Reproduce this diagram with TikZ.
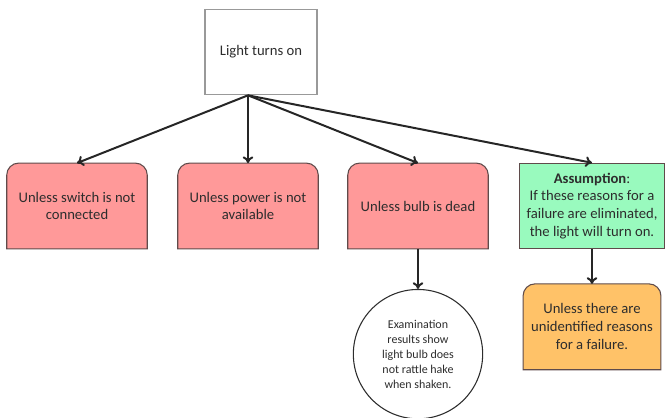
\documentclass[tikz,border=0pt]{standalone}
\usepackage{fontspec}
\setmainfont{Carlito}
\usetikzlibrary{positioning}
\usetikzlibrary{arrows.meta}
\usetikzlibrary{backgrounds}
\definecolor{reason}{RGB}{255,153,153}
\definecolor{assume}{RGB}{153,250,190}
\definecolor{hidden}{RGB}{255,194,104}
\definecolor{edge}{RGB}{95,75,75}
\definecolor{ink}{RGB}{45,45,45}

\tikzset{
    box/.style={minimum width=105pt, minimum height=64pt, align=center, text=ink,
        inner sep=3pt, font=\fontsize{11}{13.4}\selectfont},
    topbox/.style={box, draw=gray!80, line width=1pt, fill=white, minimum width=84pt},
    greenbox/.style={box, draw=edge, line width=0.8pt, fill=assume, minimum width=109pt},
    circlebox/.style={circle, draw=ink, line width=0.8pt, fill=white, minimum size=97pt,
        align=center, text=ink, inner sep=0pt, font=\fontsize{9}{11.2}\selectfont},
    arr/.style={-{To[length=5pt,width=8pt]}, line width=1.5pt, draw=black!85}
}

\begin{document}
\begin{tikzpicture}[x=0.75pt, y=-0.75pt]
    \useasboundingbox (0,0) rectangle (666,417);

    % top statement
    \node[topbox] (light) at (261,52) {Light turns on};

    % reasons for failure
    \node[box] (switch) at (77,206) {Unless switch is not\\connected};
    \node[box] (power) at (248,206) {Unless power is not\\available};
    \node[box] (bulb) at (418,206) {Unless bulb is dead};
    \node[greenbox] (assumption) at (592,206)
        {\textbf{Assumption}:\\If these reasons for a\\failure are eliminated,\\the light will turn on.};

    % below the row
    \node[circlebox, below=30pt of bulb] (exam)
        {Examination\\results show\\light bulb does\\not rattle hake\\when shaken.};
    \node[box, below=26pt of assumption, minimum width=103pt] (unknown)
        {Unless there are\\unidentified reasons\\for a failure.};

    % boxes rounded on top only
    \begin{scope}[on background layer]
        \foreach \n/\c in {switch/reason, power/reason, bulb/reason, unknown/hidden} {
            \draw[draw=edge, fill=\c, line width=0.8pt] (\n.south west)
                [rounded corners=9pt] -- (\n.north west) -- (\n.north east)
                [sharp corners] -- (\n.south east) -- cycle;
        }
    \end{scope}

    % arrows
    \coordinate (hub) at (light.south -| power.north);
    \draw[arr] (hub) -- (switch.north);
    \draw[arr] (hub) -- (power.north);
    \draw[arr] (hub) -- (bulb.north);
    \draw[arr] (hub) -- (assumption.north);
    \draw[arr] (bulb) -- (exam);
    \draw[arr] (assumption) -- (unknown);
\end{tikzpicture}
\end{document}
